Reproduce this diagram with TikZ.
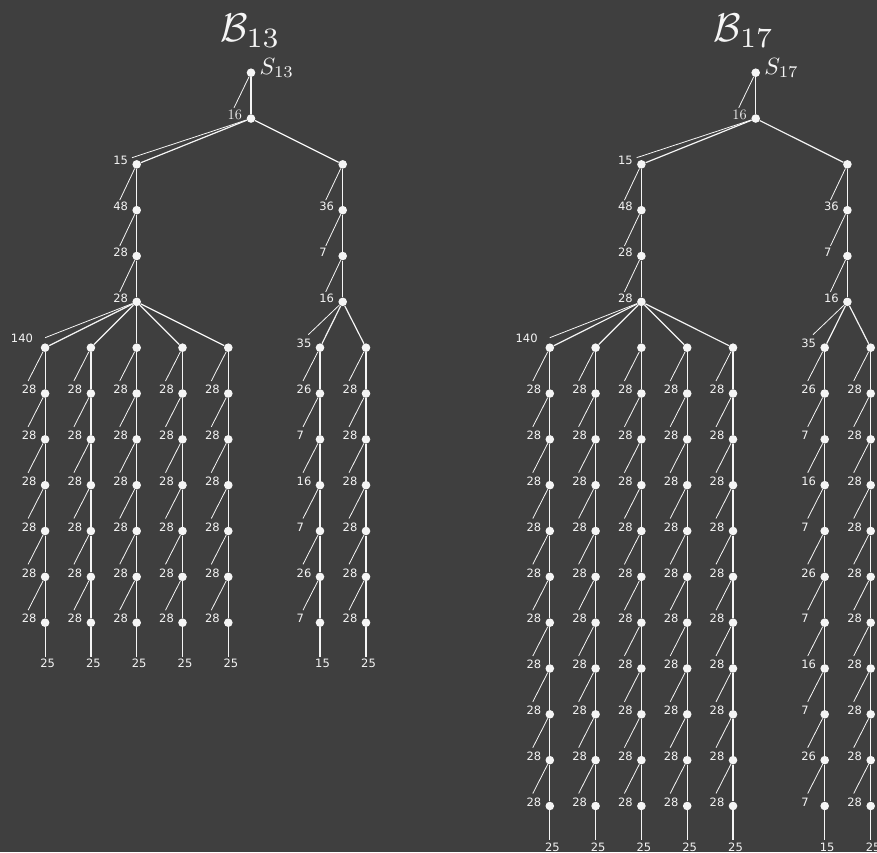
\documentclass[tikz,border=0pt]{standalone}
\usepackage{graphicx}
\usepackage{fontspec}
\newfontfamily\labfont{DejaVu Sans}
\definecolor{board}{RGB}{63,63,63}
\definecolor{chalk}{RGB}{245,245,245}
\tikzset{
  dot/.style={circle, fill=chalk, inner sep=0pt, minimum size=8.6pt},
  edge/.style={draw=chalk, line width=1.2pt},
  lline/.style={draw=chalk, line width=0.8pt},
  lab/.style={text=chalk, font=\fontsize{11.5}{12}\labfont, inner sep=0pt, anchor=west},
  seriflab/.style={text=chalk, font=\fontsize{14.5}{15}\selectfont, inner sep=0pt, anchor=west},
  ttl/.style={text=chalk, inner sep=0pt, anchor=base},
  slab/.style={text=chalk, inner sep=0pt, anchor=base west}
}
% chain step: parent, child, x, row, label, dy of label line end
\newcommand\cstep[6]{%
  \node[dot] (#2) at (#3,{ry(#4)}) {};
  \draw[edge] (#1) -- (#2);
  \coordinate (#2e) at (#3-17,{ry(#4)+#6});
  \draw[lline] (#1) -- (#2e);
  \node[lab] (#2l) at (#3-23.5,{ry(#4)-4}) {#5};
}
% tree: prefix, dx, last row, subscript, title x
\newcommand\mytree[5]{%
  \node[ttl] (#1T) at (#5,41.7) {\scalebox{4}{$\mathcal{B}_{#4}$}};
  \node[dot] (#1S) at (#2+251,{ry(0)}) {};
  \node[slab] (#1SL) at (#2+259.5,74) {\scalebox{2.35}{$S_{#4}$}};
  % node 16
  \node[dot] (#1A) at (#2+251,{ry(1)}) {};
  \draw[edge] (#1S) -- (#1A);
  \coordinate (#1Ae) at (#2+234,{ry(1)-10.7});
  \draw[lline] (#1S) -- (#1Ae);
  \node[seriflab] (#1Al) at (#2+227.5,{ry(1)-3.9}) {16};
  % left child 15
  \node[dot] (#1L2) at (#2+136.7,{ry(2)}) {};
  \draw[edge] (#1A) -- (#1L2);
  \coordinate (#1L2e) at (#2+132,{ry(2)-6.7});
  \draw[lline] (#1A) -- (#1L2e);
  \node[lab] (#1L2l) at (#2+113.2,{ry(2)-3.7}) {15};
  % right child
  \node[dot] (#1R2) at (#2+342.7,{ry(2)}) {};
  \draw[edge] (#1A) -- (#1R2);
  % top chains
  \cstep{#1L2}{#1L3}{#2+136.7}{3}{48}{-10}
  \cstep{#1L3}{#1L4}{#2+136.7}{4}{28}{-10}
  \cstep{#1L4}{#1L5}{#2+136.7}{5}{28}{-10}
  \cstep{#1R2}{#1R3}{#2+342.7}{3}{36}{-10}
  \cstep{#1R3}{#1R4}{#2+342.7}{4}{7}{-10}
  \cstep{#1R4}{#1R5}{#2+342.7}{5}{16}{-10}
  % five columns of the left subtree
  \foreach \k in {1,...,5}{
    \pgfmathsetmacro\cx{#2+136.7+(\k-3)*45.8}
    \node[dot] (#1c\k-6) at (\cx,{ry(6)}) {};
    \draw[edge] (#1L5) -- (#1c\k-6);
    \ifnum\k=1
      \coordinate (#1c1-6e) at (\cx,{ry(6)-10});
      \draw[lline] (#1L5) -- (#1c1-6e);
      \node[lab, anchor=east] (#1c1-6l) at (\cx-12,{ry(6)-9.3}) {140};
    \fi
    \foreach \r [evaluate=\r as \p using int(\r-1)] in {7,...,#3}{
      \cstep{#1c\k-\p}{#1c\k-\r}{\cx}{\r}{28}{-12.5}
    }
    \coordinate (#1c\k-end) at (\cx,{ry(#3)+34});
    \draw[edge] (#1c\k-#3) -- (#1c\k-end);
    \node[lab] (#1c\k-bl) at (\cx-5,{ry(#3)+41}) {25};
  }
  % two columns of the right subtree
  \node[dot] (#1d1-6) at (#2+320,{ry(6)}) {};
  \draw[edge] (#1R5) -- (#1d1-6);
  \coordinate (#1d1-6e) at (#2+308.3,{ry(6)-13});
  \draw[lline] (#1R5) -- (#1d1-6e);
  \node[lab] (#1d1-6l) at (#2+296.5,{ry(6)-4.7}) {35};
  \node[dot] (#1d2-6) at (#2+366,{ry(6)}) {};
  \draw[edge] (#1R5) -- (#1d2-6);
  \foreach \r [evaluate=\r as \p using int(\r-1)] in {7,...,#3}{
    \pgfmathtruncatemacro\m{mod(\r-7,4)}
    \cstep{#1d1-\p}{#1d1-\r}{#2+320}{\r}{\ifcase\m\relax 26\or 7\or 16\or 7\fi}{-12.5}
    \cstep{#1d2-\p}{#1d2-\r}{#2+366}{\r}{28}{-12.5}
  }
  \coordinate (#1d1-end) at (#2+320,{ry(#3)+34});
  \draw[edge] (#1d1-#3) -- (#1d1-end);
  \node[lab] (#1d1-bl) at (#2+315,{ry(#3)+41}) {15};
  \coordinate (#1d2-end) at (#2+366,{ry(#3)+34});
  \draw[edge] (#1d2-#3) -- (#1d2-end);
  \node[lab] (#1d2-bl) at (#2+361,{ry(#3)+41}) {25};
}
\begin{document}
\begin{tikzpicture}[x=1pt, y=-1pt, declare function={ry(\r)=72.7+\r*45.83;}]
  \fill[board] (0,0) rectangle (877,852);
  \useasboundingbox (0,0) rectangle (877,852);
  \mytree{a}{0}{12}{13}{250.5}
  \mytree{b}{504.7}{16}{17}{744}
\end{tikzpicture}
\end{document}
